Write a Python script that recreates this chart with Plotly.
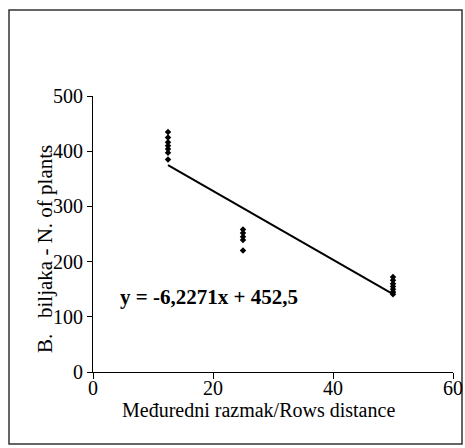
import plotly.graph_objects as go

# Data
x_a = [12.5] * 7
y_a = [435, 425, 416, 410, 404, 397, 385]
x_b = [25] * 5
y_b = [258, 252, 245, 239, 220]
x_c = [50] * 7
y_c = [172, 166, 160, 155, 150, 145, 141]

line_x = [12.5, 50]
line_y = [374.7, 141.1]

equation = "y = -6,2271x + 452,5"
x_title = "Međuredni razmak/Rows distance"
y_title = "B.&nbsp;&nbsp; biljaka - N. of plants"

x_tick_vals = [0, 20, 40, 60]
y_tick_vals = [0, 100, 200, 300, 400, 500]

FONT = "Liberation Serif, Times New Roman, serif"

L, T, PW, PH = 93, 96, 360, 276
W, H = 465, 448


def px(fx):
    return (fx - L) / PW


def py(fy):
    return (T + PH - fy) / PH


fig = go.Figure()
fig.add_trace(go.Scatter(
    x=x_a + x_b + x_c, y=y_a + y_b + y_c, mode="markers",
    marker=dict(symbol="diamond", size=5, color="black"),
    showlegend=False, hoverinfo="skip"))
fig.add_trace(go.Scatter(
    x=line_x, y=line_y, mode="lines",
    line=dict(color="black", width=2),
    showlegend=False, hoverinfo="skip"))

fig.update_layout(
    width=W, height=H, autosize=False,
    margin=dict(l=L, r=W - L - PW, t=T, b=H - T - PH, autoexpand=False),
    paper_bgcolor="white", plot_bgcolor="white",
    font=dict(family=FONT, color="black", size=20),
    xaxis=dict(range=[0, 60], tickvals=x_tick_vals, showgrid=False, zeroline=False,
               showline=True, linecolor="black", linewidth=1,
               ticks="outside", ticklen=6, tickcolor="black",
               ticklabelstandoff=-8, automargin=False,
               tickfont=dict(size=20, family=FONT)),
    yaxis=dict(range=[0, 500], tickvals=y_tick_vals, showgrid=False, zeroline=False,
               showline=True, linecolor="black", linewidth=1,
               ticks="outside", ticklen=5, tickcolor="black",
               automargin=False,
               tickfont=dict(size=20, family=FONT)),
    annotations=[
        dict(text="<b>" + equation + "</b>", x=4.2, y=136, xref="x", yref="y",
             xanchor="left", yanchor="middle", showarrow=False,
             font=dict(size=21, family=FONT)),
        dict(text=x_title, x=px(258), y=py(410), xref="paper", yref="paper",
             xanchor="center", yanchor="middle", showarrow=False,
             font=dict(size=20, family=FONT)),
        dict(text=y_title, x=px(45), y=py(249), xref="paper", yref="paper",
             xanchor="center", yanchor="middle", textangle=-90, showarrow=False,
             font=dict(size=21, family=FONT)),
    ],
    shapes=[
        dict(type="rect", xref="paper", yref="paper",
             x0=px(9), x1=px(462), y0=py(444), y1=py(10),
             line=dict(color="#333333", width=1.5), layer="below"),
    ],
)

fig.write_html(
    "out.html",
    config={"displayModeBar": False},
    post_script="document.body.style.margin='0';document.body.style.overflow='hidden';",
)
